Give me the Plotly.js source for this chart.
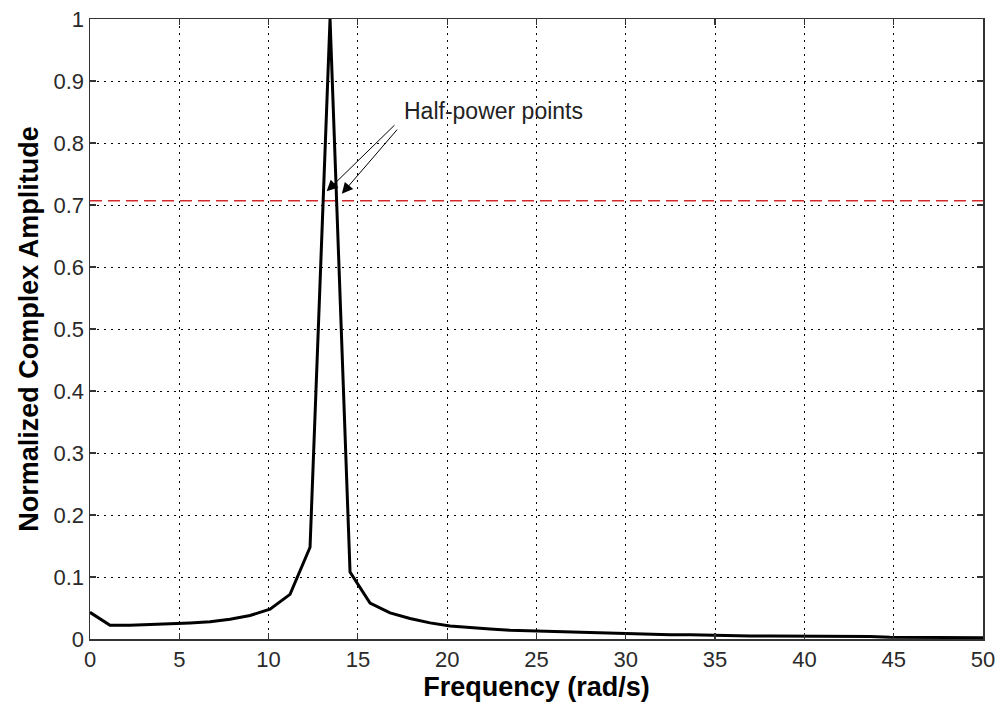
<!DOCTYPE html>
<html>
<head>
<meta charset="utf-8">
<script src="https://cdn.plot.ly/plotly-3.0.1.min.js"></script>
<style>html,body{margin:0;padding:0;background:#fff;}#chart{width:1000px;height:708px;}</style>
</head>
<body>
<div id="chart"></div>
<script>
// Frequency samples (rad/s)
var frequency = [0, 1.12, 2.24, 3.36, 4.48, 5.60, 6.72, 7.84, 8.96, 10.08,
  11.20, 12.32, 13.44, 14.56, 15.68, 16.80, 17.92, 19.04, 20.16, 21.28,
  22.40, 23.52, 24.64, 25.76, 26.88, 28.00, 29.12, 30.24, 31.36, 32.48,
  33.60, 34.72, 35.84, 36.96, 38.08, 39.20, 40.32, 41.44, 42.56, 43.68,
  44.80, 45.92, 47.04, 48.16, 49.28, 50.40];
// Normalized complex amplitude
var amplitude = [0.043, 0.022, 0.022, 0.023, 0.024, 0.026, 0.028, 0.032, 0.038, 0.048,
  0.072, 0.148, 1.000, 0.108, 0.058, 0.042, 0.033, 0.026, 0.021, 0.018,
  0.016, 0.014, 0.013, 0.012, 0.011, 0.010, 0.009, 0.008, 0.008, 0.007,
  0.007, 0.006, 0.006, 0.005, 0.005, 0.005, 0.004, 0.004, 0.004, 0.004,
  0.003, 0.003, 0.003, 0.002, 0.002, 0.002];
var halfPowerLevel = [0.707, 0.707];
var halfPowerX = [0, 50];

var xTickVals = [0, 5, 10, 15, 20, 25, 30, 35, 40, 45, 50];
var xTickText = ["0", "5", "10", "15", "20", "25", "30", "35", "40", "45", "50"];
var yTickVals = [0, 0.1, 0.2, 0.3, 0.4, 0.5, 0.6, 0.7, 0.8, 0.9, 1];
var yTickText = ["0", "0.1", "0.2", "0.3", "0.4", "0.5", "0.6", "0.7", "0.8", "0.9", "1"];

var annotationText = "Half-power points";
var annotationPos = [17.45, 0.852];
var arrowTails = [[17.13, 0.831], [17.27, 0.824]];
var arrowHeads = [[13.25, 0.722], [14.1, 0.718]];

var axisFont = {family: "Liberation Sans, Arial, sans-serif", size: 22, color: "#2a2a2a"};
var titleFont = {family: "Liberation Sans, Arial, sans-serif", size: 27, color: "#000", weight: "bold"};

var traces = [
  {x: halfPowerX, y: halfPowerLevel, mode: "lines", type: "scatter",
   line: {color: "#d42a2a", width: 1.5, dash: "12px,6px"}, hoverinfo: "skip"},
  {x: frequency, y: amplitude, mode: "lines", type: "scatter",
   line: {color: "#000", width: 3}}
];

var annotations = [
  {x: annotationPos[0], y: annotationPos[1], xref: "x", yref: "y", text: annotationText,
   showarrow: false, xanchor: "left", yanchor: "middle",
   font: {family: "Liberation Sans, Arial, sans-serif", size: 23, color: "#222"}}
];
for (var i = 0; i < arrowHeads.length; i++) {
  annotations.push({
    x: arrowHeads[i][0], y: arrowHeads[i][1], xref: "x", yref: "y",
    ax: arrowTails[i][0], ay: arrowTails[i][1], axref: "x", ayref: "y",
    text: "", showarrow: true, arrowhead: 2, arrowsize: 2.2, arrowwidth: 1,
    arrowcolor: "#000", standoff: 0, startstandoff: 0
  });
}

var layout = {
  width: 1000, height: 708,
  paper_bgcolor: "#fff", plot_bgcolor: "#fff",
  margin: {l: 90, r: 17, t: 19, b: 69, pad: 0},
  showlegend: false,
  xaxis: {
    range: [0, 50], tickvals: xTickVals, ticktext: xTickText,
    ticks: "inside", ticklen: 6, tickcolor: "#333", tickwidth: 1.2,
    showline: true, linecolor: "#333", linewidth: 1.5, mirror: "ticks",
    showgrid: true, gridcolor: "#000", gridwidth: 1, griddash: "2px,5px",
    zeroline: false, tickfont: axisFont,
    title: {text: "Frequency (rad/s)", font: titleFont, standoff: 5}
  },
  yaxis: {
    range: [0, 1], tickvals: yTickVals, ticktext: yTickText,
    ticks: "inside", ticklen: 6, tickcolor: "#333", tickwidth: 1.2,
    showline: true, linecolor: "#333", linewidth: 1.5, mirror: "ticks",
    showgrid: true, gridcolor: "#000", gridwidth: 1, griddash: "2px,5px",
    zeroline: false, tickfont: axisFont,
    title: {text: "Normalized Complex Amplitude", font: titleFont, standoff: 7}
  },
  annotations: annotations
};

Plotly.newPlot("chart", traces, layout, {displayModeBar: false, staticPlot: true});
</script>
</body>
</html>
